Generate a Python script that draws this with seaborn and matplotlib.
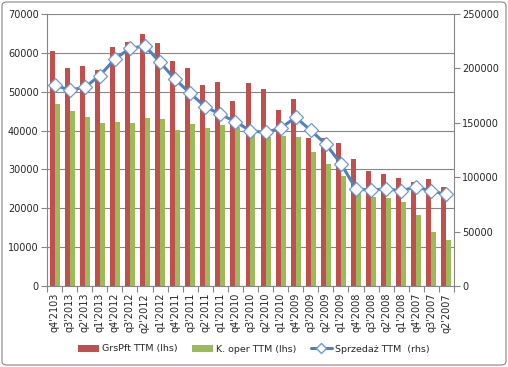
import numpy as np
import pandas as pd
import matplotlib
matplotlib.use("Agg")
import matplotlib.pyplot as plt
import seaborn as sns
from matplotlib.patches import FancyBboxPatch, Patch
from matplotlib.lines import Line2D
from matplotlib.ticker import MultipleLocator, FixedLocator

categories = ["q4'2103", "q3'2013", "q2'2013", "q1'2013", "q4'2012", "q3'2012", "q2'2012",
              "q1'2012", "q4'2011", "q3'2011", "q2'2011", "q1'2011", "q4'2010", "q3'2010",
              "q2'2010", "q1'2010", "q4'2009", "q3'2009", "q2'2009", "q1'2009", "q4'2008",
              "q3'2008", "q2'2008", "q1'2008", "q4'2007", "q3'2007", "q2'2007"]
grspft = [60500, 56100, 56500, 55600, 61500, 62900, 64850, 62450, 57800, 56100, 51700, 52500,
          47500, 52300, 50600, 45300, 48200, 38100, 38000, 36800, 32600, 29600, 28700, 27700,
          26700, 27500, 25400]
koper = [46750, 45100, 43600, 42000, 42200, 41850, 43150, 42950, 40100, 41700, 40600, 41400,
         40800, 38900, 38400, 38600, 38400, 34400, 31400, 28300, 24500, 23000, 22700, 21700,
         18400, 13800, 11900]
sprzedaz = [184700, 180100, 182600, 193300, 208600, 218400, 220600, 205600, 190000, 177100,
            164800, 157800, 151000, 142700, 141100, 145200, 155000, 143000, 130300, 112400,
            89300, 88200, 89300, 87600, 91000, 87300, 84300]
series_names = ["GrsPft TTM (lhs)", "K. oper TTM (lhs)", "Sprzedaż TTM  (rhs)"]

RED = "#C0504D"
GREEN = "#9BBB59"
BLUE = "#4F81BD"
GRID = "#868686"

sns.set_theme(style="white")
plt.rcParams["font.family"] = ["DejaVu Sans"]

df = pd.DataFrame({
    "cat": categories * 2,
    "value": grspft + koper,
    "series": [series_names[0]] * len(categories) + [series_names[1]] * len(categories),
})

fig = plt.figure(figsize=(5.08, 3.67), dpi=100)
ax = fig.add_axes([47 / 508, 1 - 286 / 367, (454 - 47) / 508, (286 - 14) / 367])

sns.barplot(data=df, x="cat", y="value", hue="series", order=categories,
            palette=[RED, GREEN], width=0.66, gap=0, saturation=1, ax=ax,
            legend=False, errorbar=None, linewidth=0)

ax.set_xlim(-0.5, len(categories) - 0.5)
ax.set_ylim(0, 70000)
ax.yaxis.set_major_locator(MultipleLocator(10000))
ax.set_xlabel("")
ax.set_ylabel("")
ax.grid(axis="y", color=GRID, linewidth=0.8)
ax.set_axisbelow(True)
for s in ["top", "right"]:
    ax.spines[s].set_visible(False)
for s in ["left", "bottom"]:
    ax.spines[s].set_color(GRID)
    ax.spines[s].set_linewidth(0.8)

ax.set_xticks(range(len(categories)))
ax.set_xticklabels(categories, rotation=90, fontsize=7)
ax.xaxis.set_minor_locator(FixedLocator(np.arange(-0.5, len(categories), 1.0)))
ax.tick_params(axis="x", which="major", length=0, pad=5)
ax.tick_params(axis="x", which="minor", length=4, width=0.8, color=GRID, bottom=True)
ax.tick_params(axis="y", which="major", length=4, width=0.8, color=GRID, labelsize=7, pad=2, left=True)

ax2 = ax.twinx()
sns.lineplot(x=np.arange(len(categories)), y=sprzedaz, ax=ax2, color=BLUE, linewidth=2.2,
             marker="D", markersize=7.3, markerfacecolor="white", markeredgecolor="#6F9AD0",
             markeredgewidth=0.9, legend=False)
ax2.set_ylim(0, 250000)
ax2.yaxis.set_major_locator(MultipleLocator(50000))
ax2.set_xlim(-0.5, len(categories) - 0.5)
ax2.grid(False)
for s in ["top", "left", "bottom"]:
    ax2.spines[s].set_visible(False)
ax2.spines["right"].set_color(GRID)
ax2.spines["right"].set_linewidth(0.8)
ax2.tick_params(axis="y", which="major", length=4, width=0.8, color=GRID, labelsize=7, pad=2, right=True)

handles = [
    Patch(facecolor=RED, edgecolor="none"),
    Patch(facecolor=GREEN, edgecolor="none"),
    Line2D([0], [0], color=BLUE, linewidth=2.2, marker="D", markersize=5,
           markerfacecolor="white", markeredgecolor="#6F9AD0"),
]
fig.legend(handles, series_names, loc="center", bbox_to_anchor=(0.5, 1 - 349 / 367),
           ncol=3, frameon=False, fontsize=6.8, handlelength=2.2, handletextpad=0.35,
           columnspacing=1.5, handleheight=0.7)

border = FancyBboxPatch((2 / 508, 2 / 367), 504 / 508, 363 / 367,
                        boxstyle="round,pad=0,rounding_size=0.01",
                        transform=fig.transFigure, facecolor="none",
                        edgecolor="#868686", linewidth=0.8)
fig.patches.append(border)

fig.savefig("out.png", dpi=100)
